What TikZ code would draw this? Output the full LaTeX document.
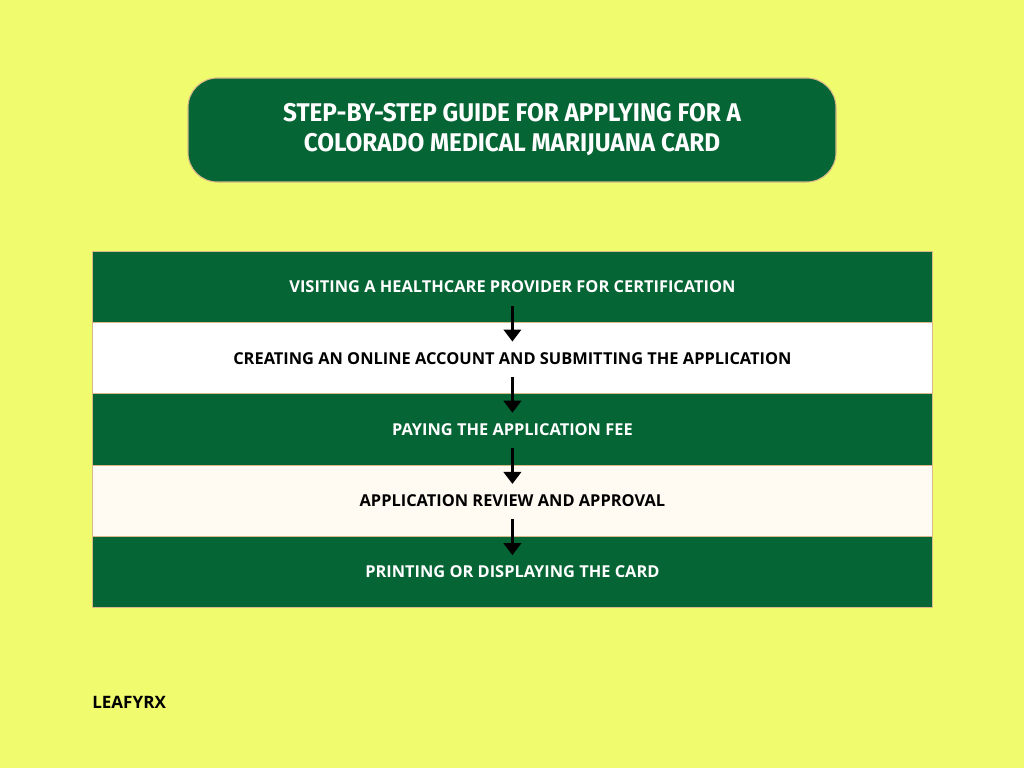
\documentclass[tikz,border=0pt]{standalone}
\usepackage{fontspec}
\setmainfont{Open Sans}
\newfontfamily\titlefont[FakeStretch=0.95]{Fira Sans}
\definecolor{bgyellow}{HTML}{F0FC6E}
\definecolor{dgreen}{HTML}{066535}
\definecolor{tanline}{HTML}{D9B88A}
\definecolor{offwhite}{HTML}{FFFBF3}
\tikzset{
  rowbox/.style={draw=tanline, line width=0.6pt, minimum width=630pt, minimum height=53.4pt, inner sep=0pt, anchor=north west, font=\bfseries\fontsize{12.3}{14}\selectfont},
  greenrow/.style={rowbox, fill=dgreen, text=white},
  lightrow/.style={rowbox, fill=white, text=black},
  creamrow/.style={rowbox, fill=offwhite, text=black},
  flowarrow/.style={line width=2.2pt, -{Triangle[length=9pt,width=13pt]}},
}
\usetikzlibrary{arrows.meta}
\begin{document}
\begin{tikzpicture}[x=0.75pt,y=-0.75pt]
\useasboundingbox[fill=bgyellow] (0,0) rectangle (1024,768);
\node[draw=tanline, line width=0.8pt, fill=dgreen, rounded corners=22pt, minimum width=486pt, minimum height=78pt, text=white, align=center, font=\titlefont\bfseries\fontsize{19.2}{22.5}\selectfont] (title) at (512,130) {STEP-BY-STEP GUIDE FOR APPLYING FOR A\\COLORADO MEDICAL MARIJUANA CARD};
\node[greenrow] (r1) at (92,251) {VISITING A HEALTHCARE PROVIDER FOR CERTIFICATION};
\node[lightrow] (r2) at (92,322.2) {CREATING AN ONLINE ACCOUNT AND SUBMITTING THE APPLICATION};
\node[greenrow] (r3) at (92,393.4) {PAYING THE APPLICATION FEE};
\node[creamrow] (r4) at (92,464.6) {APPLICATION REVIEW AND APPROVAL};
\node[greenrow] (r5) at (92,535.8) {PRINTING OR DISPLAYING THE CARD};
\foreach \a/\b in {r1/r2,r2/r3,r3/r4,r4/r5}{
  \coordinate (s\a) at ([yshift=13pt]\a.south);
  \coordinate (e\a) at ([yshift=-14.5pt]\b.north);
  \draw[flowarrow] (s\a) -- (e\a);
}
\node[anchor=west, inner sep=0pt, font=\bfseries\fontsize{12.8}{14}\selectfont] (brand) at (92,702) {LEAFYRX};
\end{tikzpicture}
\end{document}
